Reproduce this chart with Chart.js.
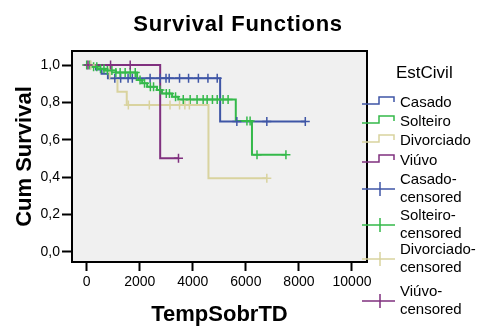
<!DOCTYPE html>
<html>
<head>
<meta charset="utf-8">
<script src="https://cdn.jsdelivr.net/npm/chart.js@4.4.1/dist/chart.umd.min.js"></script>
<style>
  html, body { margin: 0; padding: 0; background: #fff; }
  #wrap { width: 481px; height: 326px; }
</style>
</head>
<body>
<div id="wrap"><canvas id="chartSurvival" width="481" height="326"></canvas></div>
<script>
// Eixos
const xTicks = [0, 2000, 4000, 6000, 8000, 10000];
const yTicks = [0, 0.2, 0.4, 0.6, 0.8, 1.0];

const grupos = ['Casado', 'Solteiro', 'Divorciado', 'Viúvo'];
const cores = ['#3f56a6', '#34b94a', '#d9d39f', '#80307f'];

// Tempos dos eventos e sobrevivência acumulada depois de cada evento
const casadoTempos = [0, 350, 560, 800, 5030];
const casadoSobrev = [1.0, 0.976, 0.953, 0.929, 0.697];
const casadoCensura = [1060, 1280, 1560, 1720, 2390, 2770, 2990, 3110, 3500, 3840, 4210, 4570, 4920, 5660, 6790, 8240];

const solteiroTempos = [0, 150, 400, 700, 1100, 1900, 2090, 2280, 2650, 2840, 3220, 3450, 5620, 6230];
const solteiroSobrev = [1.0, 0.99, 0.98, 0.97, 0.96, 0.92, 0.902, 0.884, 0.866, 0.848, 0.83, 0.815, 0.70, 0.52];
const solteiroCensura = [0, 120, 260, 380, 520, 650, 780, 950, 1100, 1260, 1450, 1640, 1830, 2010, 2180, 2400, 2520, 2760, 3000, 3120, 3350, 3640, 3900, 4160, 4390, 4540, 4740, 4920, 5140, 5330, 6040, 6160, 6420, 7510];

const divorciadoTempos = [0, 870, 1160, 1510, 4590];
const divorciadoSobrev = [1.0, 0.929, 0.857, 0.786, 0.393];
const divorciadoCensura = [160, 1570, 2360, 3140, 3500, 3700, 3870, 6790];

const viuvoTempos = [0, 2770];
const viuvoSobrev = [1.0, 0.5];
const viuvoCensura = [50, 900, 1640, 3460];

const tempos = [casadoTempos, solteiroTempos, divorciadoTempos, viuvoTempos];
const sobrev = [casadoSobrev, solteiroSobrev, divorciadoSobrev, viuvoSobrev];
const censura = [casadoCensura, solteiroCensura, divorciadoCensura, viuvoCensura];

const FONTE = "'Liberation Sans', Arial, sans-serif";

// valor da curva (degrau) num dado tempo
function sobrevEm(ts, ss, t) {
    let s = ss[0];
    for (let i = 0; i < ts.length; i++) if (ts[i] <= t) s = ss[i];
    return s;
}

const datasets = [];
grupos.forEach((g, i) => {
    const ts = tempos[i], ss = sobrev[i];
    const pts = ts.map((t, k) => ({ x: t, y: ss[k] }));
    const fim = Math.max(ts[ts.length - 1], ...censura[i]);
    pts.push({ x: fim, y: ss[ss.length - 1] });
    datasets.push({
        label: g,
        data: pts,
        showLine: true,
        stepped: true,
        borderColor: cores[i],
        borderWidth: 2,
        pointRadius: 0,
        fill: false,
        order: 10 + (3 - i)
    });
});
grupos.forEach((g, i) => {
    datasets.push({
        label: g + '-censored',
        data: censura[i].map(t => ({ x: t, y: sobrevEm(tempos[i], sobrev[i], t) })),
        showLine: false,
        pointStyle: 'cross',
        pointRadius: 4.5,
        pointBorderWidth: 1.5,
        borderColor: cores[i],
        backgroundColor: cores[i],
        order: 4 - i
    });
});

// fundo cinza e moldura da área do gráfico, título e legenda
const molduraPlugin = {
    id: 'moldura',
    beforeDraw(chart) {
        const { ctx, chartArea: a } = chart;
        ctx.save();
        ctx.fillStyle = '#f0f0f0';
        ctx.fillRect(a.left, a.top, a.right - a.left, a.bottom - a.top);
        ctx.restore();
    },
    afterDraw(chart) {
        const { ctx, chartArea: a } = chart;
        ctx.save();
        ctx.strokeStyle = '#000';
        ctx.lineWidth = 2;
        ctx.strokeRect(a.left, a.top, a.right - a.left, a.bottom - a.top);

        // título
        ctx.fillStyle = '#000';
        ctx.font = 'bold 22px ' + FONTE;
        ctx.letterSpacing = '0.7px';
        ctx.textAlign = 'center';
        ctx.textBaseline = 'middle';
        ctx.fillText('Survival Functions', 238, 25);
        ctx.letterSpacing = '0px';

        // legenda
        ctx.textAlign = 'left';
        ctx.font = '17px ' + FONTE;
        ctx.fillText('EstCivil', 396, 73);
        ctx.font = '15px ' + FONTE;
        ctx.lineWidth = 1.5;
        const ySerie = [103, 122, 141, 161];
        grupos.forEach((g, i) => {
            const y = ySerie[i];
            ctx.strokeStyle = cores[i];
            ctx.beginPath();
            ctx.moveTo(362, y + 1);
            ctx.lineTo(379, y + 1);
            ctx.lineTo(379, y - 6);
            ctx.lineTo(394, y - 6);
            ctx.lineTo(394, y - 1);
            ctx.stroke();
            ctx.fillStyle = '#000';
            ctx.fillText(g, 400, y);
        });
        const yCens = [189, 225, 259, 301];
        grupos.forEach((g, i) => {
            const y = yCens[i];
            ctx.strokeStyle = cores[i];
            ctx.beginPath();
            ctx.moveTo(362, y);
            ctx.lineTo(395, y);
            ctx.moveTo(380, y - 7);
            ctx.lineTo(380, y + 7);
            ctx.stroke();
            ctx.fillStyle = '#000';
            ctx.fillText(g + '-', 400, y - 9);
            ctx.fillText('censored', 400, y + 9);
        });
        ctx.restore();
    }
};

new Chart(document.getElementById('chartSurvival'), {
    type: 'scatter',
    data: { datasets },
    options: {
        responsive: false,
        animation: false,
        layout: { padding: { top: 51, right: 114, left: 0, bottom: 0 } },
        plugins: {
            legend: { display: false },
            title: { display: false },
            tooltip: { enabled: false }
        },
        scales: {
            x: {
                type: 'linear',
                min: -554,
                max: 10566,
                afterBuildTicks: s => { s.ticks = xTicks.map(v => ({ value: v })); },
                afterFit: s => { s.height = 64; },
                border: { display: false },
                grid: { drawOnChartArea: false, drawTicks: true, tickLength: 9, tickColor: '#000', tickWidth: 2 },
                ticks: { color: '#000', font: { family: FONTE, size: 14 }, padding: 3, maxRotation: 0, callback: v => String(v) },
                title: { display: true, text: 'TempSobrTD', color: '#000', font: { family: FONTE, size: 22, weight: 'bold' }, padding: { top: 0, bottom: -2 } }
            },
            y: {
                type: 'linear',
                min: -0.055,
                max: 1.075,
                afterBuildTicks: s => { s.ticks = yTicks.map(v => ({ value: v })); },
                afterFit: s => { s.width = 72; },
                border: { display: false },
                grid: { drawOnChartArea: false, drawTicks: true, tickLength: 10, tickColor: '#000', tickWidth: 2 },
                ticks: { color: '#000', font: { family: FONTE, size: 14 }, padding: 2, callback: v => v.toFixed(1).replace('.', ',') },
                title: { display: true, text: 'Cum Survival', color: '#000', font: { family: FONTE, size: 22, weight: 'bold' }, padding: { top: 12, bottom: 0 } }
            }
        }
    },
    plugins: [molduraPlugin]
});
</script>
</body>
</html>
